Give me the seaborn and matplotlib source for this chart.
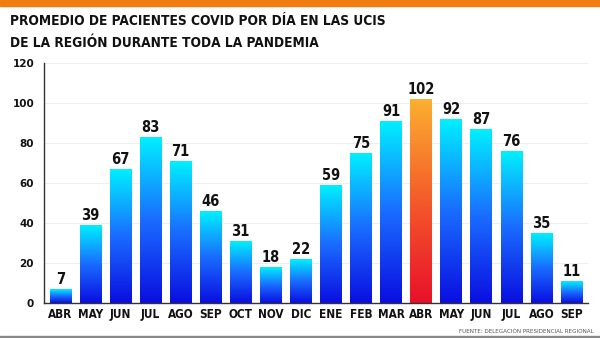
import numpy as np
import pandas as pd
import matplotlib
matplotlib.use("Agg")
import matplotlib.pyplot as plt
import seaborn as sns
from matplotlib.colors import LinearSegmentedColormap
from matplotlib.patches import Rectangle

months = ["ABR", "MAY", "JUN", "JUL", "AGO", "SEP", "OCT", "NOV", "DIC",
          "ENE", "FEB", "MAR", "ABR", "MAY", "JUN", "JUL", "AGO", "SEP"]
values = [7, 39, 67, 83, 71, 46, 31, 18, 22, 59, 75, 91, 102, 92, 87, 76, 35, 11]
yticks = [0, 20, 40, 60, 80, 100, 120]
title = "PROMEDIO DE PACIENTES COVID POR DÍA EN LAS UCIS\nDE LA REGIÓN DURANTE TODA LA PANDEMIA"
source = "FUENTE: DELEGACIÓN PRESIDENCIAL REGIONAL"

sns.set_theme(style="white")
plt.rcParams['font.family'] = ['DejaVu Sans']

df = pd.DataFrame({"mes": [f"{m}{i}" for i, m in enumerate(months)], "valor": values})

fig = plt.figure(figsize=(6, 3.38), dpi=100)
ax = fig.add_axes([0.073, 0.104, 0.907, 0.71])
sns.barplot(data=df, x="mes", y="valor", ax=ax, width=0.72, color="#1a3cff")

blue_cmap = LinearSegmentedColormap.from_list("b", ["#0a0ee0", "#1a6cff", "#00f0ff"])
red_cmap = LinearSegmentedColormap.from_list("r", ["#e8102a", "#f45a2a", "#fbb030"])
grad = np.linspace(0, 1, 256).reshape(-1, 1)
maxi = int(np.argmax(values))
for i, p in enumerate(ax.patches):
    x0, y0 = p.get_x(), p.get_y()
    w, h = p.get_width(), p.get_height()
    p.set_facecolor("none")
    p.set_edgecolor("none")
    cmap = red_cmap if i == maxi else blue_cmap
    im = ax.imshow(grad, cmap=cmap, origin="lower", aspect="auto",
                   extent=[x0, x0 + w, y0, y0 + h], zorder=2)
    im.set_clip_path(p)
    ax.text(x0 + w / 2, h + 0.8, str(values[i]), ha="center", va="bottom",
            fontsize=10.5, fontweight="bold", color="#111111", fontstretch="condensed")

ax.set_xlim(-0.55, len(values) - 0.45)
ax.set_ylim(0, 120)
ax.set_yticks(yticks)
ax.set_yticklabels([str(t) for t in yticks], fontsize=7.5, fontweight="bold", color="#111111")
ax.set_xticks(range(len(months)))
ax.set_xticklabels(months, fontsize=8.5, fontweight="bold", color="#111111", fontstretch="condensed")
ax.set_xlabel("")
ax.set_ylabel("")
ax.tick_params(axis="y", length=0, pad=7)
ax.tick_params(axis="x", length=0, pad=4)
ax.grid(axis="y", color="#eeeeee", linewidth=0.7)
ax.set_axisbelow(True)
for s in ["top", "right"]:
    ax.spines[s].set_visible(False)
ax.spines["left"].set_color("#333333")
ax.spines["bottom"].set_color("#333333")
ax.spines["left"].set_linewidth(1)
ax.spines["bottom"].set_linewidth(1)

fig.text(0.017, 0.96, title, ha="left", va="top", fontsize=9.8, fontweight="bold",
         color="#111111", linespacing=1.75, fontstretch="condensed")
fig.text(0.99, 0.018, source, ha="right", va="center", fontsize=4.5, color="#555555",
         fontstretch="condensed")

fig.add_artist(Rectangle((0, 0.982), 1, 0.018, transform=fig.transFigure, color="#f07d10", zorder=5))
fig.add_artist(Rectangle((0, 0.0), 1, 0.006, transform=fig.transFigure, color="#888888", zorder=5))

fig.savefig("out.png", dpi=100)
